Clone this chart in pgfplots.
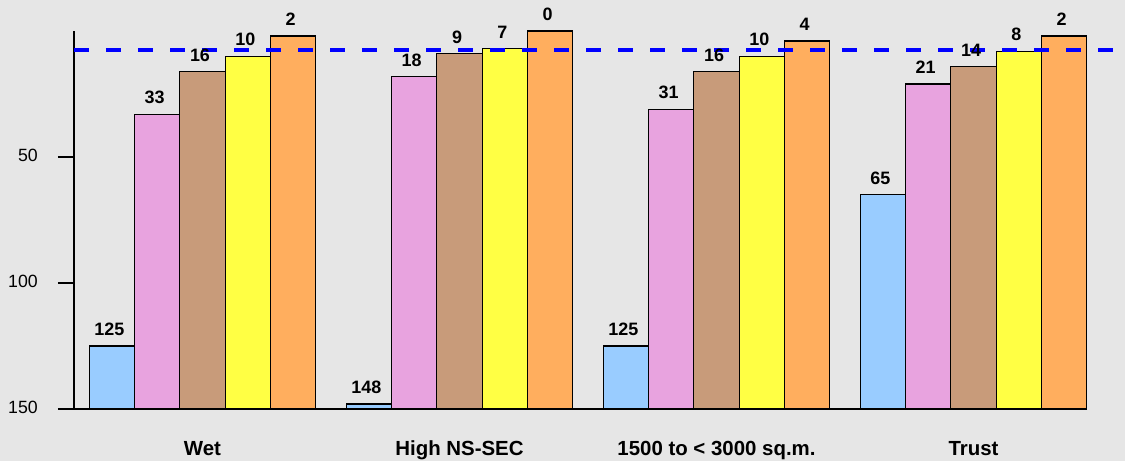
\documentclass[border=0pt]{standalone}
\usepackage{pgfplots}
\pgfplotsset{compat=1.18}
\usepackage{pgfplotstable}
\usepackage{fontspec}
\setmainfont{Liberation Sans}
\definecolor{bg}{RGB}{230,230,230}
\definecolor{cA}{RGB}{153,204,255}
\definecolor{cB}{RGB}{232,163,223}
\definecolor{cC}{RGB}{200,155,122}
\definecolor{cD}{RGB}{255,255,68}
\definecolor{cE}{RGB}{255,174,94}

\pgfplotstableread{
x a b c d e
0 125 33 16 10 2
1 148 18 9 7 0
2 125 31 16 10 4
3 65 21 14 8 2
}\datatable

\begin{document}
\begin{tikzpicture}
\useasboundingbox (-74bp,-52bp) rectangle (1051bp,409bp);
\fill[bg] (-74bp,-52bp) rectangle (1051bp,409bp);
\begin{axis}[
  at={(0,0)}, anchor=south west,
  scale only axis, width=1013bp, height=378bp,
  xmin=-0.5, xmax=3.4416, ymin=0, ymax=150,
  ybar=0pt, bar width=45.3bp,
  axis x line*=bottom, axis y line*=left,
  axis line style={-, black, line width=1.1bp},
  xtick={0,1,2,3},
  xticklabels={Wet, High NS-SEC, 1500 to < 3000 sq.m., Trust},
  x tick style={draw=none},
  xticklabel style={font=\bfseries\fontsize{20.5}{24}\selectfont, anchor=base, yshift=-30bp, inner sep=0pt},
  ytick={0,50,100}, yticklabels={150,100,50},
  tick align=outside, major tick length=16bp,
  y tick style={black, line width=1.1bp},
  yticklabel style={font=\fontsize{17.8}{20}\selectfont, anchor=east, inner sep=0pt, xshift=-20bp, yshift=2bp},
  /pgf/number format/assume math mode=true,
  clip=false,
  vallab/.style={draw=black, line width=1.2bp,
    nodes near coords={\pgfmathprintnumber{\pgfplotspointmeta}},
    point meta=explicit,
    nodes near coords style={font=\bfseries\fontsize{18}{20}\selectfont, inner sep=0pt, anchor=south, yshift=9.5bp, xshift=-2.5bp, text=black}},
]
\addplot[vallab, fill=cA] table[x=x, y expr=150-\thisrow{a}, meta=a] \datatable;
\addplot[vallab, fill=cB] table[x=x, y expr=150-\thisrow{b}, meta=b] \datatable;
\addplot[vallab, fill=cC] table[x=x, y expr=150-\thisrow{c}, meta=c] \datatable;
\addplot[vallab, fill=cD] table[x=x, y expr=150-\thisrow{d}, meta=d] \datatable;
\addplot[vallab, fill=cE] table[x=x, y expr=150-\thisrow{e}, meta=e] \datatable;
\addplot[sharp plot, mark=none, draw={rgb,255:red,0;green,0;blue,255}, line width=3.8bp, dash pattern=on 15bp off 17bp, forget plot] coordinates {(-0.5,142.3) (3.5428,142.3)};
\end{axis}
\end{tikzpicture}
\end{document}
